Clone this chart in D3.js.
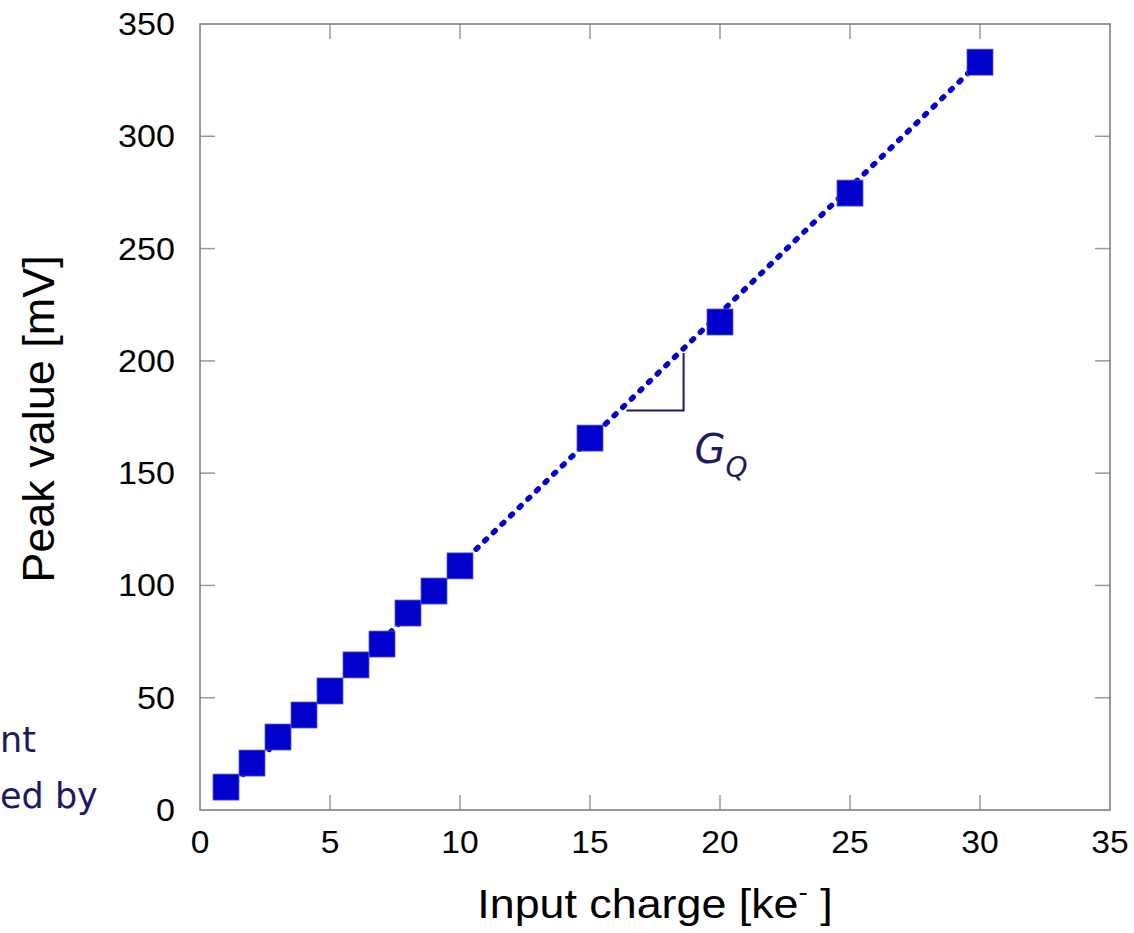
<!DOCTYPE html>
<html>
<head>
<meta charset="utf-8">
<script src="https://cdn.jsdelivr.net/npm/d3@7"></script>
<style>
  body { margin: 0; background: #fff; }
  svg { display: block; }
  .tick-label { font-family: "Liberation Sans", Arial, sans-serif; fill: #000; }
  .hand { font-family: "DejaVu Sans", sans-serif; fill: #1b1b5f; }
</style>
</head>
<body>
<div class="plot"></div>
<script>
// measured points
var charge = [1, 2, 3, 4, 5, 6, 7, 8, 9, 10, 15, 20, 25, 30];
var peak = [10.2, 20.9, 32.5, 42.3, 53, 64.6, 73.9, 87.7, 97.5, 108.7, 165.6, 217.3, 274.7, 333];

// linear fit drawn as dotted line
var fitSlope = 11.2,
    fitIntercept = -2.8,
    fitRange = [1, 30];

// gain triangle
var gqX = [16.4, 18.6];

var xTicks = [0, 5, 10, 15, 20, 25, 30, 35],
    yTicks = [0, 50, 100, 150, 200, 250, 300, 350];

var W = 1134, H = 933,
    m = {t: 24, r: 24, b: 123, l: 200},
    w = W - m.l - m.r,
    h = H - m.t - m.b;

var svg = d3.select('.plot').append('svg')
    .attr('width', W)
    .attr('height', H);

var x = d3.scaleLinear().domain([0, 35]).range([m.l, m.l + w]),
    y = d3.scaleLinear().domain([0, 350]).range([m.t + h, m.t]);

function fit(v){ return fitSlope * v + fitIntercept; }

// ticks (inside, mirrored)
var tickLen = 15;
var ticks = svg.append('g').attr('stroke', '#999').attr('stroke-width', 1.5);
xTicks.slice(1, -1).forEach(function(t){
    ticks.append('line').attr('x1', x(t)).attr('x2', x(t)).attr('y1', y(0)).attr('y2', y(0) - tickLen);
    ticks.append('line').attr('x1', x(t)).attr('x2', x(t)).attr('y1', y(350)).attr('y2', y(350) + tickLen);
});
yTicks.slice(1, -1).forEach(function(t){
    ticks.append('line').attr('y1', y(t)).attr('y2', y(t)).attr('x1', x(0)).attr('x2', x(0) + tickLen);
    ticks.append('line').attr('y1', y(t)).attr('y2', y(t)).attr('x1', x(35)).attr('x2', x(35) - tickLen);
});

// frame
svg.append('rect')
    .attr('x', x(0)).attr('y', y(350))
    .attr('width', x(35) - x(0)).attr('height', y(0) - y(350))
    .attr('fill', 'none').attr('stroke', '#777').attr('stroke-width', 1.5);

// tick labels
svg.append('g').selectAll('g')
    .data(yTicks).enter().append('g')
    .attr('transform', function(d){ return 'translate(175,' + (y(d) + 11) + ') scale(1.1,1)'; })
    .append('text').attr('class', 'tick-label')
    .attr('text-anchor', 'end').attr('font-size', 31)
    .text(function(d){ return d; });

svg.append('g').selectAll('g')
    .data(xTicks).enter().append('g')
    .attr('transform', function(d){ return 'translate(' + x(d) + ',853) scale(1.05,1)'; })
    .append('text').attr('class', 'tick-label')
    .attr('text-anchor', 'middle').attr('font-size', 32)
    .text(function(d){ return d; });

// axis titles
var xt = svg.append('g')
    .attr('transform', 'translate(' + (m.l + w / 2) + ',918) scale(1.12,1)')
    .append('text').attr('class', 'tick-label')
    .attr('text-anchor', 'middle').attr('font-size', 40);
xt.append('tspan').text('Input charge [ke');
xt.append('tspan').attr('dy', -17).attr('font-size', 25).text('-');
xt.append('tspan').attr('dy', 17).text(' ]');

svg.append('text').attr('class', 'tick-label')
    .attr('transform', 'translate(54,' + (m.t + h / 2 + 2) + ') rotate(-90)')
    .attr('text-anchor', 'middle').attr('font-size', 45)
    .text('Peak value [mV]');

// fit line
var line = d3.line().x(function(d){ return x(d); }).y(function(d){ return y(fit(d)); });
svg.append('path')
    .datum(fitRange)
    .attr('d', line)
    .attr('fill', 'none')
    .attr('stroke', '#0000cc')
    .attr('stroke-width', 5.5)
    .attr('stroke-linecap', 'round')
    .attr('stroke-dasharray', '2.5 9.5');

// squares
var sz = 26;
svg.append('g').selectAll('rect')
    .data(charge).enter().append('rect')
    .attr('x', function(d){ return x(d) - sz / 2; })
    .attr('y', function(d, i){ return y(peak[i]) - sz / 2; })
    .attr('width', sz).attr('height', sz)
    .attr('fill', '#0000cc')
    .attr('stroke', '#5a5ad8').attr('stroke-width', 0.8);

// gain triangle
var gy = fit(gqX[0]) - 3;
svg.append('path')
    .attr('d', 'M' + x(gqX[0]) + ',' + y(gy) + 'H' + x(gqX[1]) + 'V' + y(fit(gqX[1]) - 2))
    .attr('fill', 'none').attr('stroke', '#1b1b5f').attr('stroke-width', 2);

var gq = svg.append('text').attr('class', 'hand')
    .attr('x', x(gqX[1]) + 11).attr('y', y(gy) + 52)
    .attr('font-style', 'italic').attr('font-size', 40);
gq.append('tspan').text('G');
gq.append('tspan').attr('dy', 14).attr('font-size', 28).text('Q');

// text from the slide at left edge
svg.append('text').attr('class', 'hand')
    .attr('x', 0).attr('y', 752).attr('font-size', 35)
    .text('nt');
svg.append('text').attr('class', 'hand')
    .attr('x', 0).attr('y', 808).attr('font-size', 35)
    .text('ed by');
</script>
</body>
</html>
